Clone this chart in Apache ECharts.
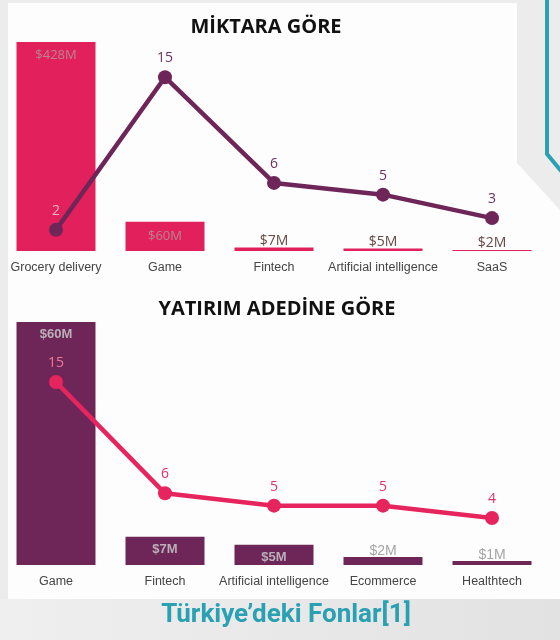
<!DOCTYPE html>
<html>
<head>
<meta charset="utf-8">
<script src="https://cdn.jsdelivr.net/npm/echarts@6/dist/echarts.min.js"></script>
<style>
  html, body { margin: 0; padding: 0; background: #ececec; }
  #chart { width: 560px; height: 640px; }
</style>
</head>
<body>
<div id="chart"></div>
<script>
// Top panel: by amount ($M) with deal counts
const amountCategories = ['Grocery delivery', 'Game', 'Fintech', 'Artificial intelligence', 'SaaS'];
const amountValues = [428, 60, 7, 5, 2];
const amountDeals = [2, 15, 6, 5, 3];

// Bottom panel: by number of deals
const countCategories = ['Game', 'Fintech', 'Artificial intelligence', 'Ecommerce', 'Healthtech'];
const countValues = [60, 7, 5, 2, 1];
const countDeals = [15, 6, 5, 5, 4];

const PINK = '#e2215c';
const PURPLE = '#6e2659';
const TEAL = '#2aa0b3';

const money = (p) => '$' + p.value + 'M';

const chart = echarts.init(document.getElementById('chart'), null, { renderer: 'canvas' });

function catAxis(idx, cats) {
  return {
    type: 'category',
    gridIndex: idx,
    data: cats,
    axisLine: { show: false },
    axisTick: { show: false },
    splitLine: { show: false },
    axisLabel: {
      interval: 0,
      hideOverlap: false,
      margin: 10,
      color: '#444',
      fontFamily: 'Liberation Sans, Arial, sans-serif',
      fontSize: 12.5
    }
  };
}

function valAxis(idx, min, max) {
  return { type: 'value', gridIndex: idx, min: min, max: max, show: false, splitLine: { show: false } };
}

// top chart bar labels: big bars carry the label inside
const topBarData = amountValues.map((v) => ({
  value: v,
  label: v >= 60
    ? { position: v > 100 ? 'insideTop' : 'inside', distance: 7, color: '#b8848f', fontSize: 13 }
    : { position: 'top', distance: 0, color: '#654a44', fontSize: 14 }
}));

const bottomBarData = countValues.map((v) => ({
  value: v,
  label: v >= 5
    ? { position: 'insideTop', distance: 6, color: '#b9b0b8', fontWeight: 'bold', fontSize: 13 }
    : { position: 'top', distance: -1, color: '#a5a5a5', fontSize: 14 }
}));

// first point of each line sits on top of the big bar, so its label is lighter
const topLineData = amountDeals.map((v, i) => ({
  value: v,
  label: i === 0 ? { color: '#e9b7c4' } : {}
}));
const bottomLineData = countDeals.map((v, i) => ({
  value: v,
  label: i === 0 ? { color: '#f07a92' } : {}
}));

const option = {
  backgroundColor: '#ececec',
  animation: false,
  graphic: [
    {
      type: 'polygon', z: -10, silent: true,
      shape: { points: [[8, 3], [517, 3], [517, 163], [560, 210], [560, 599], [8, 599]] },
      style: { fill: '#fdfdfd' }
    },
    {
      type: 'rect', z: -10, silent: true,
      shape: { x: 0, y: 599, width: 560, height: 41 },
      style: {
        fill: new echarts.graphic.LinearGradient(0, 0, 1, 0, [
          { offset: 0, color: '#efefef' },
          { offset: 1, color: '#e2e2e2' }
        ])
      }
    },
    {
      type: 'polyline', z: -9, silent: true,
      shape: { points: [[547, 0], [547, 154], [562, 172]] },
      style: { stroke: TEAL, lineWidth: 4, fill: null }
    }
  ],
  title: [
    {
      text: 'MİKTARA GÖRE',
      left: 261, top: 12, textAlign: 'center',
      textStyle: { fontFamily: 'Open Sans', fontWeight: 'bold', fontSize: 20, color: '#111' }
    },
    {
      text: 'YATIRIM ADEDİNE GÖRE',
      left: 272, top: 294, textAlign: 'center',
      textStyle: { fontFamily: 'Open Sans', fontWeight: 'bold', fontSize: 20, color: '#111' }
    },
    {
      text: 'Türkiye’deki Fonlar[1]',
      left: 281, top: 597, textAlign: 'center',
      textStyle: { fontFamily: 'Roboto', fontWeight: 'bold', fontSize: 26, color: TEAL }
    }
  ],
  grid: [
    { left: 1.5, width: 545, top: 42, height: 209 },
    { left: 1.5, width: 545, top: 322, height: 243 }
  ],
  xAxis: [catAxis(0, amountCategories), catAxis(1, countCategories)],
  yAxis: [
    valAxis(0, 0, 428),
    valAxis(0, 0.2, 18),
    valAxis(1, 0, 60),
    valAxis(1, 0.2, 19.86)
  ],
  series: [
    {
      name: 'Amount',
      type: 'bar',
      xAxisIndex: 0, yAxisIndex: 0,
      barWidth: 79,
      data: topBarData,
      itemStyle: { color: PINK },
      label: { show: true, formatter: money, fontFamily: 'Open Sans' }
    },
    {
      name: 'Deals',
      type: 'line',
      xAxisIndex: 0, yAxisIndex: 1,
      data: topLineData,
      symbol: 'circle', symbolSize: 14,
      lineStyle: { width: 4.5, color: PURPLE },
      itemStyle: { color: PURPLE },
      label: { show: true, position: 'top', distance: 5, color: '#6e3062', fontFamily: 'Open Sans', fontSize: 14 },
      z: 5
    },
    {
      name: 'Amount',
      type: 'bar',
      xAxisIndex: 1, yAxisIndex: 2,
      barWidth: 79,
      data: bottomBarData,
      itemStyle: { color: PURPLE },
      label: { show: true, formatter: money, fontFamily: 'Liberation Sans, Arial, sans-serif' }
    },
    {
      name: 'Deals',
      type: 'line',
      xAxisIndex: 1, yAxisIndex: 3,
      data: bottomLineData,
      symbol: 'circle', symbolSize: 14,
      lineStyle: { width: 4.5, color: '#e6245e' },
      itemStyle: { color: '#e6245e' },
      label: { show: true, position: 'top', distance: 5, color: '#e0306a', fontFamily: 'Open Sans', fontSize: 14 },
      z: 5
    }
  ]
};

chart.setOption(option);
</script>
</body>
</html>
